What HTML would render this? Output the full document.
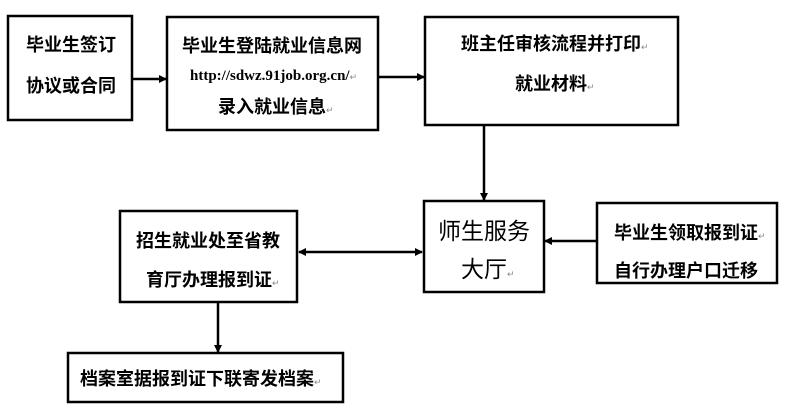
<!DOCTYPE html>
<html><head><meta charset="utf-8"><style>
html,body{margin:0;padding:0;background:#fff;width:798px;height:416px;overflow:hidden}
svg text{font-family:"Liberation Sans","Noto Sans CJK SC",sans-serif;fill:#000}
.c{font-size:18px;font-weight:bold}
.s{font-family:"Liberation Serif",serif !important;font-size:15px;font-weight:bold}
.b{font-size:23px}
.m{font-size:9px;fill:#888;font-weight:normal}
</style></head><body>
<svg width="798" height="416" xmlns="http://www.w3.org/2000/svg">
<defs><marker id="a" markerWidth="8" markerHeight="8" refX="7" refY="4" orient="auto" markerUnits="userSpaceOnUse"><path d="M0,0 L8,4 L0,8 z" fill="#000"/></marker>
<marker id="b" markerWidth="8" markerHeight="8" refX="1" refY="4" orient="auto" markerUnits="userSpaceOnUse"><path d="M8,0 L0,4 L8,8 z" fill="#000"/></marker></defs>
<g fill="none" stroke="#000" stroke-width="2.5">
<rect x="8" y="16" width="124" height="104"/>
<rect x="167" y="17" width="211" height="113"/>
<rect x="425" y="17" width="253" height="108"/>
<rect x="424" y="201" width="120" height="91"/>
<rect x="597" y="203" width="180" height="80"/>
<rect x="120" y="211" width="177" height="91"/>
<rect x="68" y="353" width="275" height="49"/>
</g>
<g stroke="#000" stroke-width="2.5" fill="none">
<line x1="132" y1="79" x2="166" y2="79" marker-end="url(#a)"/>
<line x1="378" y1="77" x2="424" y2="77" marker-end="url(#a)"/>
<line x1="484" y1="125" x2="484" y2="200" marker-end="url(#a)"/>
<line x1="597" y1="241" x2="545" y2="241" marker-end="url(#a)"/>
<line x1="299" y1="252" x2="422" y2="252" marker-start="url(#b)" marker-end="url(#a)"/>
<line x1="218" y1="302" x2="218" y2="352" marker-end="url(#a)"/>
</g>
<text class="c" x="26" y="51">毕业生签订</text>
<text class="c" x="26" y="92">协议或合同</text>
<text class="c" x="182" y="52">毕业生登陆就业信息网</text>
<text class="s" x="190" y="80">http://sdwz.91job.org.cn/<tspan class="m">↵</tspan></text>
<text class="c" x="218" y="113">录入就业信息<tspan class="m">↵</tspan></text>
<text class="c" x="461" y="50">班主任审核流程并打印<tspan class="m">↵</tspan></text>
<text class="c" x="515" y="90">就业材料<tspan class="m">↵</tspan></text>
<text class="b" x="438" y="239">师生服务</text>
<text class="b" x="461" y="277">大厅<tspan class="m">↵</tspan></text>
<text class="c" x="614" y="239">毕业生领取报到证<tspan class="m">↵</tspan></text>
<text class="c" x="614" y="277">自行办理户口迁移</text>
<text class="c" x="136" y="247">招生就业处至省教</text>
<text class="c" x="146" y="286">育厅办理报到证<tspan class="m">↵</tspan></text>
<text class="c" x="80" y="385">档案室据报到证下联寄发档案<tspan class="m">↵</tspan></text>
</svg>
</body></html>
